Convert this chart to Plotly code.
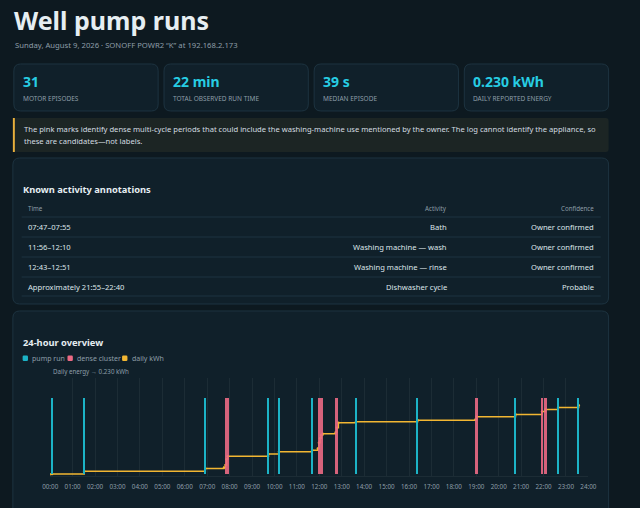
import plotly.graph_objects as go

W, H = 640, 508
FONT = "Noto Sans"

# ---- data ----
KPI_VALUES = ["31", "22 min", "39 s", "0.230 kWh"]
KPI_LABELS = ["MOTOR EPISODES", "TOTAL OBSERVED RUN TIME", "MEDIAN EPISODE", "DAILY REPORTED ENERGY"]

ANNOT_TIMES = ["07:47–07:55", "11:56–12:10", "12:43–12:51", "Approximately 21:55–22:40"]
ANNOT_ACTIVITIES = ["Bath", "Washing machine — wash", "Washing machine — rinse", "Dishwasher cycle"]
ANNOT_CONFIDENCE = ["Owner confirmed", "Owner confirmed", "Owner confirmed", "Probable"]

HOUR_LABELS = ["%02d:00" % h for h in range(25)]

# isolated pump runs (start times)
PUMP_RUNS = ["00:05", "01:31", "06:55", "09:44", "10:12", "11:41",
             "13:38", "16:23", "20:45", "22:39", "23:34"]
# dense multi-cycle periods (start, end)
CLUSTER_STARTS = ["07:48", "11:56", "12:07", "12:43", "18:57", "21:55", "22:04"]
CLUSTER_ENDS = ["07:58", "12:04", "12:11", "12:51", "19:04", "22:00", "22:09"]

# cumulative daily energy
ENERGY_TIMES = ["00:00", "00:05", "01:31", "06:55", "07:45", "07:49", "07:52", "07:55",
                "09:44", "10:12", "11:41", "11:56", "11:59", "12:02", "12:05", "12:09",
                "12:44", "12:47", "12:51", "13:38", "16:23", "18:58", "19:01",
                "20:45", "21:56", "22:05", "22:39", "23:34"]
ENERGY_KWH = [0.000, 0.001, 0.010, 0.019, 0.023, 0.031, 0.050, 0.060,
              0.068, 0.075, 0.080, 0.086, 0.105, 0.120, 0.130, 0.135,
              0.140, 0.155, 0.172, 0.175, 0.180, 0.183, 0.192,
              0.199, 0.209, 0.216, 0.223, 0.230]


def hours(t):
    hh, mm = t.split(":")
    return int(hh) + int(mm) / 60


def px(x):
    return x / W


def py(y):
    return 1 - y / H


def rounded(x0, y0, x1, y1, r):
    pts = [
        ("M", [(x0 + r, y0)]), ("L", [(x1 - r, y0)]), ("Q", [(x1, y0), (x1, y0 + r)]),
        ("L", [(x1, y1 - r)]), ("Q", [(x1, y1), (x1 - r, y1)]), ("L", [(x0 + r, y1)]),
        ("Q", [(x0, y1), (x0, y1 - r)]), ("L", [(x0, y0 + r)]), ("Q", [(x0, y0), (x0 + r, y0)]),
    ]
    s = ""
    for cmd, coords in pts:
        s += cmd + " " + " ".join("%.5f,%.5f" % (px(a), py(b)) for a, b in coords) + " "
    return s + "Z"


BG = "#0d1920"
CARD = "#10202a"
BORDER = "#1d3340"
WHITE = "#e6eef2"
GREY = "#8d9ea8"
CYAN = "#27cde3"
RUN = "#1cb3c6"
PINK = "#ec6a84"
GOLD = "#f2b632"

shapes = []
annotations = []


def text(x, y, s, size, color, anchor="left", bold=False):
    annotations.append(dict(
        x=px(x), y=py(y), xref="paper", yref="paper", text="<b>%s</b>" % s if bold else s,
        showarrow=False, xanchor=anchor, yanchor="middle",
        font=dict(family=FONT, size=size, color=color)))


def card(x0, y0, x1, y1, fill=CARD, line=BORDER, r=7):
    shapes.append(dict(type="path", path=rounded(x0, y0, x1, y1, r), xref="paper", yref="paper",
                       fillcolor=fill, line=dict(color=line, width=1), layer="below"))


# header
text(4, 20, "Well pump runs", 25, WHITE, bold=True)
text(5, 45, "Sunday, August 9, 2026 · SONOFF POWR2 “K” at 192.168.2.173", 7.7, GREY)

# KPI cards
card_x = [6, 160, 314, 468]
for cx, val, lab in zip(card_x, KPI_VALUES, KPI_LABELS):
    card(cx, 64, cx + 148, 111)
    text(cx + 7, 82, val, 14, CYAN, bold=True)
    text(cx + 7, 98, lab, 6.5, GREY)

# note
card(5, 118, 616, 152, fill="#1c2524", line="rgba(0,0,0,0)", r=3)
shapes.append(dict(type="rect", xref="paper", yref="paper", x0=px(5), x1=px(7),
                   y0=py(152), y1=py(118), fillcolor="#e9b03c", line=dict(width=0)))
text(14, 129, "The pink marks identify dense multi-cycle periods that could include the washing-machine "
     "use mentioned by the owner. The log cannot identify the appliance, so", 7.6, "#d3dce0")
text(14, 141, "these are candidates—not labels.", 7.6, "#d3dce0")

# table card
card(5, 158, 616, 304)
text(13, 189, "Known activity annotations", 9.3, WHITE, bold=True)
text(18, 209, "Time", 6.2, GREY)
text(452, 209, "Activity", 6.2, GREY, anchor="right")
text(603, 209, "Confidence", 6.2, GREY, anchor="right")
row_lines = [217, 237, 257, 277, 296]
for yl in row_lines:
    shapes.append(dict(type="line", xref="paper", yref="paper", x0=px(14), x1=px(608),
                       y0=py(yl), y1=py(yl), line=dict(color=BORDER, width=1)))
for i, (t, a, c) in enumerate(zip(ANNOT_TIMES, ANNOT_ACTIVITIES, ANNOT_CONFIDENCE)):
    yy = 227 + 20 * i
    text(18, yy, t, 7.6, "#dde5e9")
    text(452, yy, a, 7.6, "#dde5e9", anchor="right")
    text(603, yy, c, 7.6, "#dde5e9", anchor="right")

# chart card
card(5, 311, 616, 540)
text(13, 342, "24-hour overview", 9.3, WHITE, bold=True)
legend = [(15, RUN, "pump run"), (61, PINK, "dense cluster"), (117, GOLD, "daily kWh")]
for lx, col, lab in legend:
    shapes.append(dict(type="path", path=rounded(lx, 355.5, lx + 5.5, 361, 1.2), xref="paper",
                       yref="paper", fillcolor=col, line=dict(width=0)))
    text(lx + 8, 358.3, lab, 7, GREY)
text(44, 371, "Daily energy → 0.230 kWh", 6.2, GREY)

fig = go.Figure()

fig.add_trace(go.Bar(
    x=[(hours(s) + hours(e)) / 2 for s, e in zip(CLUSTER_STARTS, CLUSTER_ENDS)],
    y=[1] * len(CLUSTER_STARTS),
    width=[hours(e) - hours(s) for s, e in zip(CLUSTER_STARTS, CLUSTER_ENDS)],
    marker=dict(color=PINK, line=dict(width=0)), opacity=0.9, yaxis="y2",
    hoverinfo="skip", name="dense cluster"))
fig.add_trace(go.Bar(
    x=[hours(t) for t in PUMP_RUNS], y=[1] * len(PUMP_RUNS), width=0.06,
    marker=dict(color=RUN, line=dict(width=0)), yaxis="y2", name="pump run"))
fig.add_trace(go.Scatter(
    x=[hours(t) for t in ENERGY_TIMES], y=ENERGY_KWH, mode="lines+markers",
    line=dict(color=GOLD, width=1.5, shape="hv"), marker=dict(size=2.5, color=GOLD),
    name="daily kWh"))

fig.update_layout(
    width=W, height=H, margin=dict(l=0, r=0, t=0, b=0), autosize=False,
    paper_bgcolor=BG, plot_bgcolor="rgba(0,0,0,0)", showlegend=False,
    barmode="overlay", bargap=0,
    shapes=shapes, annotations=annotations,
    xaxis=dict(domain=[px(43.3), px(595.3)], range=[0, 24], tickvals=list(range(25)),
               ticktext=HOUR_LABELS, showgrid=True, gridcolor="#1c2c35", gridwidth=1,
               zeroline=False, showline=True, linecolor="#1c2c35", ticks="outside",
               ticklen=4, tickcolor="rgba(0,0,0,0)",
               tickfont=dict(family=FONT, size=6.3, color=GREY), fixedrange=True),
    yaxis=dict(domain=[py(476), py(378)], range=[-0.0057, 0.321], visible=False, fixedrange=True),
    yaxis2=dict(domain=[py(476), py(378)], range=[-0.022, 1.257], overlaying="y",
                visible=False, fixedrange=True),
)

fig.write_html(
    "out.html",
    config={"displayModeBar": False, "responsive": False},
    post_script="document.documentElement.style.margin='0';"
                "document.body.style.margin='0';document.body.style.overflow='hidden';",
)
